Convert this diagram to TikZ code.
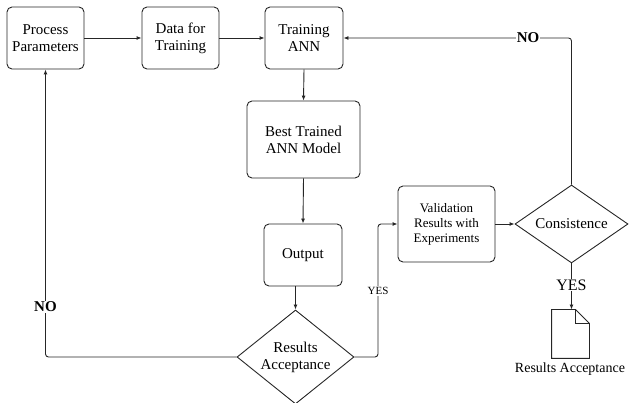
\documentclass[tikz,border=0pt]{standalone}
\usepackage{fontspec}
\setmainfont{Liberation Serif}
\usetikzlibrary{shapes.geometric,arrows.meta,positioning}
\begin{document}
\begin{tikzpicture}[x=1pt,y=-1pt,
  line width=0.9pt,
  boxnode/.style={draw=black!85,rounded corners=5pt,align=center,inner sep=0pt,
    font=\rmfamily\fontsize{15}{17}\selectfont},
  decnode/.style={draw=black!85,diamond,inner sep=0pt,align=center,
    font=\rmfamily\fontsize{15}{17}\selectfont},
  conn/.style={draw=black!85,-{Latex[length=5pt,width=4pt]},rounded corners=3pt},
  lbl/.style={fill=white,inner sep=1pt}]
\useasboundingbox (0,0) rectangle (630,403);
% boxes
\node[boxnode,minimum width=77pt,minimum height=62pt] (pp) at (45.5,38) {Process\\Parameters};
\node[boxnode,minimum width=77pt,minimum height=62pt] (data) at (180.5,38) {Data for\\Training};
\node[boxnode,minimum width=78pt,minimum height=62pt] (train) at (304,38) {Training\\ANN};
\node[boxnode,minimum width=113pt,minimum height=77pt] (best) at (303.5,139.5) {Best Trained\\ANN Model};
\node[boxnode,minimum width=78pt,minimum height=62pt] (out) at (303,255) {Output};
\node[decnode,minimum width=117pt,minimum height=94pt,aspect=1.245] (ra) at (295.5,357) {Results\\Acceptance};
\node[boxnode,minimum width=97pt,minimum height=76pt,font=\rmfamily\fontsize{13}{15}\selectfont] (val) at (446.5,224) {Validation\\Results with\\Experiments};
\node[decnode,minimum width=113pt,minimum height=78pt,aspect=1.45] (cons) at (571.5,224) {Consistence};
% document shape
\node[minimum width=37pt,minimum height=48pt,inner sep=0pt] (doc) at (570.5,334) {};
\draw[black!85] (doc.north west) -- ([xshift=-14pt]doc.north east) -- ([yshift=-14pt]doc.north east)
  -- (doc.south east) -- (doc.south west) -- cycle;
\draw[black!85] ([xshift=-14pt]doc.north east) -- ([xshift=-14pt,yshift=-14pt]doc.north east) -- ([yshift=-14pt]doc.north east);
\node[font=\rmfamily\fontsize{14}{16}\selectfont] (doclbl) at (570,369) {Results Acceptance};
% connectors
\draw[conn] (pp.east) -- (data.west);
\draw[conn] (data.east) -- (train.west);
\draw[conn] (train.south) -- (best.north);
\draw[conn] (best.south) -- (out.north);
\draw[conn] (ra.north |- out.south) -- (ra.north);
\draw[conn] (ra.west) -| (pp.south);
\node[lbl,font=\rmfamily\bfseries\fontsize{15}{17}\selectfont] (nol) at (45.5,307) {NO};
\coordinate (yc) at (378,357);
\draw[conn] (ra.east) -- (yc) |- (val.west);
\node[lbl,font=\rmfamily\fontsize{11}{13}\selectfont] (yesl) at (378,291) {YES};
\draw[conn] (val.east) -- (cons.west);
\draw[conn] (cons.north) |- (train.east);
\node[lbl,font=\rmfamily\bfseries\fontsize{15}{17}\selectfont] (nor) at (528,38) {NO};
\draw[conn] (cons.south) -- (cons.south |- doc.north);
\node[lbl,font=\rmfamily\fontsize{16}{18}\selectfont] (yesr) at (571.5,285) {YES};
\end{tikzpicture}
\end{document}
